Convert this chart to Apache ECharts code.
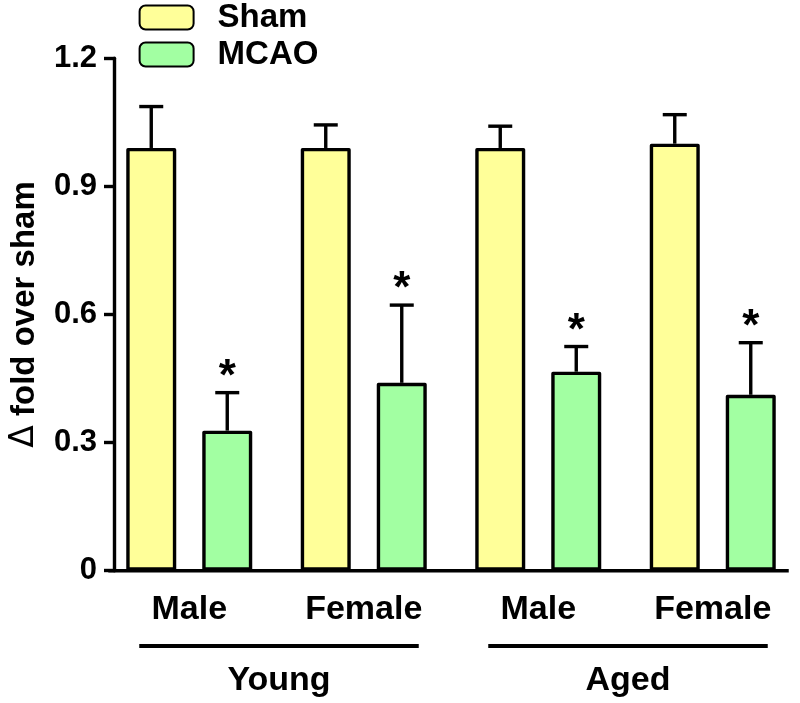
<!DOCTYPE html>
<html>
<head>
<meta charset="utf-8">
<script src="https://cdn.jsdelivr.net/npm/echarts@6/dist/echarts.min.js"></script>
<style>html,body{margin:0;padding:0;background:#fff;}#c{width:800px;height:703px;}</style>
</head>
<body>
<div id="c"></div>
<script>
// ---- data ----
const categories = ['Male', 'Female', 'Male', 'Female'];
const groups = ['Young', 'Aged'];
const groupMembers = [[0, 1], [2, 3]];
const seriesNames = ['Sham', 'MCAO'];
const shamMean = [0.99, 0.99, 0.99, 1.0];
const shamErr = [0.097, 0.054, 0.051, 0.068];
const mcaoMean = [0.328, 0.44, 0.466, 0.412];
const mcaoErr = [0.089, 0.182, 0.059, 0.122];
const mcaoSig = [1, 1, 1, 1];
const yTicks = [0, 0.3, 0.6, 0.9, 1.2];

// ---- style ----
const FONT = '"Liberation Sans", Arial, sans-serif';
const LW = 3.4;
const BAR_W = 50;
const BAR_GAP = 0.52;
const OFF = BAR_W * (1 + BAR_GAP) / 2;
const GRID_LEFT = 98, GRID_W = 708, Y_OFF = 12;

const chart = echarts.init(document.getElementById('c'));

function errRender(offset, withStar) {
  return function (params, api) {
    const i = api.value(0), m = api.value(1), e = api.value(2);
    const base = api.coord([i, m]);
    const top = api.coord([i, m + e]);
    const x = base[0] + offset;
    const st = { stroke: '#000', lineWidth: LW };
    const children = [
      { type: 'line', shape: { x1: x, y1: base[1], x2: x, y2: top[1] }, style: st },
      { type: 'line', shape: { x1: x - 12, y1: top[1], x2: x + 12, y2: top[1] }, style: st }
    ];
    if (withStar && api.value(3)) {
      children.push({ type: 'text', style: { text: '*', x: x, y: top[1] - 15, align: 'center', verticalAlign: 'middle', font: 'bold 44px ' + FONT, fill: '#000' } });
    }
    return { type: 'group', children };
  };
}

const barStyle = (c) => ({ color: c, borderColor: '#000', borderWidth: LW, borderJoin: 'round' });

chart.setOption({
  animation: false,
  backgroundColor: '#fff',
  legend: {
    data: seriesNames,
    orient: 'vertical',
    left: 138.6,
    top: 1,
    padding: 0,
    itemGap: 4,
    itemWidth: 54,
    itemHeight: 24,
    icon: 'roundRect',
    textStyle: { fontFamily: FONT, fontWeight: 'bold', fontSize: 33, color: '#000', padding: [0, 0, 0, 19] }
  },
  grid: { left: GRID_LEFT, width: GRID_W, top: 58.3, bottom: 132.3 },
  xAxis: {
    type: 'category',
    data: categories,
    axisLine: { show: false },
    axisTick: { show: false },
    axisLabel: { fontFamily: FONT, fontWeight: 'bold', fontSize: 34, color: '#000', margin: 22, interval: 0 }
  },
  yAxis: {
    type: 'value',
    min: yTicks[0], max: yTicks[yTicks.length - 1], interval: yTicks[1] - yTicks[0],
    offset: -Y_OFF,
    splitLine: { show: false },
    axisLine: { show: true, lineStyle: { color: '#000', width: LW } },
    axisTick: { show: true, inside: false, length: 10, lineStyle: { color: '#000', width: LW } },
    axisLabel: { fontFamily: FONT, fontWeight: 'bold', fontSize: 31, color: '#000', margin: 17,
      formatter: v => v === 0 ? '0' : v.toFixed(1) },
    name: '{d|\u0394} fold over sham',
    nameLocation: 'middle',
    nameRotate: 90,
    nameGap: 73,
    nameTextStyle: { fontFamily: FONT, fontWeight: 'bold', fontSize: 33, color: '#000',
      rich: { d: { fontFamily: '"DejaVu Sans", sans-serif', fontWeight: 'normal', fontSize: 33, color: '#000' } } }
  },
  series: [
    { name: 'Sham', type: 'bar', data: shamMean, barWidth: BAR_W, barGap: (BAR_GAP * 100) + '%', itemStyle: barStyle('#FFFF99'), z: 2 },
    { name: 'MCAO', type: 'bar', data: mcaoMean, barWidth: BAR_W, barGap: (BAR_GAP * 100) + '%', itemStyle: barStyle('#A2FFA2'), z: 2 },
    { name: 'ShamErr', type: 'custom', renderItem: errRender(-OFF, false), encode: { x: 0, y: 1 },
      data: shamMean.map((m, i) => [i, m, shamErr[i]]), z: 3 },
    { name: 'MCAOErr', type: 'custom', renderItem: errRender(OFF, true), encode: { x: 0, y: 1 },
      data: mcaoMean.map((m, i) => [i, m, mcaoErr[i], mcaoSig[i]]), z: 3 }
  ]
});

// axis baseline and group annotations derived from the axes
const y0 = chart.convertToPixel({ yAxisIndex: 0 }, 0);
const cx = categories.map((c, i) => chart.convertToPixel({ xAxisIndex: 0 }, i));
const axisX = GRID_LEFT + Y_OFF;
const graphics = [
  { type: 'line', shape: { x1: axisX - LW / 2, y1: y0, x2: cx[3] + OFF + 38, y2: y0 }, style: { stroke: '#000', lineWidth: LW }, z: 10 }
];
groups.forEach((g, gi) => {
  const a = cx[groupMembers[gi][0]] - 50;
  const b = cx[groupMembers[gi][1]] + 55;
  graphics.push({ type: 'line', shape: { x1: a, y1: 646, x2: b, y2: 646 }, style: { stroke: '#000', lineWidth: 4 } });
  graphics.push({ type: 'text', style: { text: g, x: (a + b) / 2, y: 681, align: 'center', verticalAlign: 'middle', font: 'bold 34px ' + FONT, fill: '#000' } });
});
chart.setOption({ graphic: graphics });
</script>
</body>
</html>
